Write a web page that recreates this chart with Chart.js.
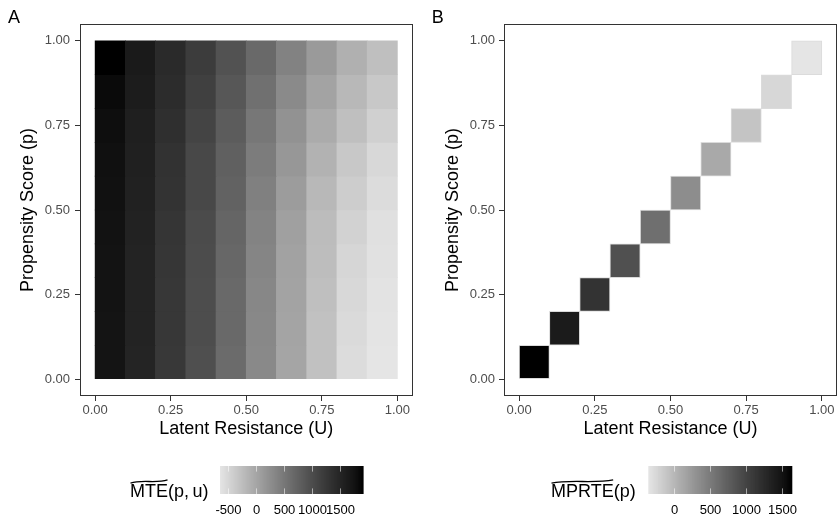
<!DOCTYPE html>
<html>
<head>
<meta charset="utf-8">
<script src="https://cdn.jsdelivr.net/npm/chart.js@4.4.1/dist/chart.umd.min.js"></script>
<style>
  html, body { margin: 0; padding: 0; background: #fff; overflow: hidden; }
  #wrap { position: relative; width: 838px; height: 519px; }
  .panel { position: absolute; top: 0; width: 419px; height: 519px; }
</style>
</head>
<body>
<div id="wrap">
  <div class="panel" style="left:0"><canvas id="chartA"></canvas></div>
  <div class="panel" style="left:419px"><canvas id="chartB"></canvas></div>
</div>
<script>
// bin edges shared by u (Latent Resistance) and p (Propensity Score)
const binEdges = [0, 0.1, 0.2, 0.3, 0.4, 0.5, 0.6, 0.7, 0.8, 0.9, 1.0];
const axisTicks = [0, 0.25, 0.5, 0.75, 1];

// MTE(p,u): one row per p bin (lowest p first), one value per u bin
const mteRows = [
  [1740, 1520, 1260,  970, 640, 310,  10, -290, -560, -650],
  [1740, 1530, 1270,  990, 660, 320,  20, -290, -540, -640],
  [1750, 1530, 1270, 1000, 670, 330,  30, -270, -520, -630],
  [1750, 1530, 1280, 1010, 690, 350,  40, -250, -500, -610],
  [1770, 1550, 1300, 1020, 710, 370,  60, -230, -460, -600],
  [1780, 1560, 1320, 1050, 750, 410, 100, -190, -410, -560],
  [1790, 1570, 1330, 1060, 770, 450, 150, -130, -360, -520],
  [1810, 1590, 1370, 1110, 820, 510, 210,  -60, -270, -440],
  [1840, 1630, 1410, 1160, 880, 580, 300,   30, -190, -360],
  [1920, 1660, 1440, 1210, 940, 670, 380,  120, -110, -270]
];

// MPRTE(p): one value per diagonal cell (u bin = p bin)
const mprte = [1640, 1430, 1170, 890, 610, 350, 120, -100, -250, -360];

const mteLegendTicks = [-500, 0, 500, 1000, 1500];
const mprteLegendTicks = [0, 500, 1000, 1500];

Chart.defaults.font.family = '"Liberation Sans", Arial, sans-serif';
Chart.defaults.color = '#4d4d4d';

// ggplot-like gradient from grey90 to black (linear in L*)
const LOW_L = 90.94;
function greyFor(v, lo, hi) {
  let t = (v - lo) / (hi - lo);
  t = Math.min(1, Math.max(0, t));
  const L = LOW_L * (1 - t);
  const Y = L > 8 ? Math.pow((L + 16) / 116, 3) : L / 903.3;
  const s = Y <= 0.0031308 ? 12.92 * Y : 1.055 * Math.pow(Y, 1 / 2.4) - 0.055;
  const g = Math.round(Math.max(0, Math.min(1, s)) * 255);
  return 'rgb(' + g + ',' + g + ',' + g + ')';
}

function drawTilde(ctx, x0, x1, y) {
  const w = x1 - x0;
  ctx.beginPath();
  ctx.moveTo(x0, y + 1.6);
  ctx.bezierCurveTo(x0 + w * 0.3, y - 2.2, x0 + w * 0.7, y + 2.2, x1, y - 1.6);
  ctx.lineWidth = 1.3;
  ctx.strokeStyle = '#000';
  ctx.stroke();
}

// panel box, panel letter and colour bar
function panelPlugin(cfg) {
  return {
    id: 'panelDecor',
    afterDraw(chart) {
      const ctx = chart.ctx;
      const a = chart.chartArea;
      ctx.save();
      ctx.strokeStyle = '#333';
      ctx.lineWidth = 1;
      ctx.strokeRect(Math.round(a.left) + 0.5, Math.round(a.top) + 0.5,
        Math.round(a.right - a.left) - 1, Math.round(a.bottom - a.top) - 1);

      ctx.fillStyle = '#000';
      ctx.font = '18px "Liberation Sans", Arial, sans-serif';
      ctx.textBaseline = 'alphabetic';
      ctx.textAlign = 'left';
      ctx.fillText(cfg.letter, cfg.letterX, 23);

      // colour bar
      const cb = cfg.bar;
      const n = Math.round(cb.w);
      for (let k = 0; k < n; k++) {
        const v = cb.lo + (cb.hi - cb.lo) * (k + 0.5) / n;
        ctx.fillStyle = greyFor(v, cb.lo, cb.hi);
        ctx.fillRect(cb.x + k * cb.w / n, cb.y, cb.w / n + 0.6, cb.h);
      }
      ctx.strokeStyle = 'rgba(255,255,255,0.55)';
      ctx.lineWidth = 1;
      ctx.fillStyle = '#000';
      ctx.font = '13px "Liberation Sans", Arial, sans-serif';
      ctx.textAlign = 'center';
      cb.ticks.forEach(t => {
        const px = Math.round(cb.x + (t - cb.lo) / (cb.hi - cb.lo) * cb.w) + 0.5;
        ctx.beginPath();
        ctx.moveTo(px, cb.y); ctx.lineTo(px, cb.y + cb.h / 5);
        ctx.moveTo(px, cb.y + cb.h - cb.h / 5); ctx.lineTo(px, cb.y + cb.h);
        ctx.stroke();
        ctx.fillText(String(t), px, 514);
      });

      // legend title with wide tilde
      ctx.font = '18px "Liberation Sans", Arial, sans-serif';
      ctx.textAlign = 'left';
      const wName = ctx.measureText(cb.name).width;
      ctx.fillText(cb.name, cb.titleX, 497);
      ctx.fillText(cb.args, cb.titleX + wName, 497);
      drawTilde(ctx, cb.titleX + 0.5, cb.titleX + wName - 0.5, 481.5);
      ctx.restore();
    }
  };
}

function makeChart(id, points, colors, opts) {
  return new Chart(document.getElementById(id), {
    type: 'bar',
    data: {
      datasets: [{
        data: points,
        backgroundColor: colors,
        borderColor: opts.cellBorder || 'rgba(0,0,0,0)',
        borderWidth: opts.cellBorder ? 1 : 0,
        borderSkipped: false,
        barPercentage: 1,
        categoryPercentage: 1
      }]
    },
    options: {
      responsive: true,
      maintainAspectRatio: false,
      animation: false,
      events: [],
      layout: { padding: opts.padding },
      plugins: { legend: { display: false }, tooltip: { enabled: false } },
      scales: {
        x: {
          type: 'linear',
          min: -0.05, max: 1.05,
          offset: false,
          grid: { offset: false, drawOnChartArea: false, drawTicks: true, tickLength: 5, tickColor: '#333' },
          border: { display: false },
          afterBuildTicks: s => { s.ticks = axisTicks.map(v => ({ value: v })); },
          afterFit: s => { s.height = 45; s.paddingLeft = 0; s.paddingRight = 0; },
          ticks: { padding: 2, color: '#4d4d4d', font: { size: 13 }, maxRotation: 0,
                   callback: v => Number(v).toFixed(2) },
          title: { display: true, text: 'Latent Resistance (U)', color: '#000',
                   font: { size: 18 }, padding: { top: 0, bottom: 1 } }
        },
        y: {
          type: 'linear',
          min: -0.05, max: 1.05,
          grid: { drawOnChartArea: false, drawTicks: true, tickLength: 5, tickColor: '#333' },
          border: { display: false },
          afterBuildTicks: s => { s.ticks = axisTicks.map(v => ({ value: v })); },
          afterFit: s => { s.width = opts.yWidth; s.paddingTop = 0; s.paddingBottom = 0; },
          ticks: { padding: opts.yPad, color: '#4d4d4d', font: { size: 13 },
                   callback: v => Number(v).toFixed(2) },
          title: { display: true, text: 'Propensity Score (p)', color: '#000',
                   font: { size: 18 }, padding: { top: opts.yTitlePad, bottom: 0 } }
        }
      }
    },
    plugins: [panelPlugin(opts.decor)]
  });
}

// ---- panel A: MTE heat map ----
const mteFlat = mteRows.flat();
const mteMin = Math.min(...mteFlat), mteMax = Math.max(...mteFlat);
const mtePoints = [], mteColors = [];
mteRows.forEach((row, i) => {
  row.forEach((v, j) => {
    mtePoints.push({ x: (binEdges[j] + binEdges[j + 1]) / 2, y: [binEdges[i], binEdges[i + 1]] });
    mteColors.push(greyFor(v, mteMin, mteMax));
  });
});

makeChart('chartA', mtePoints, mteColors, {
  padding: { left: 0, right: 6.5, top: 24, bottom: 78 },
  yWidth: 80, yPad: 5, yTitlePad: 17.5,
  decor: {
    letter: 'A', letterX: 8,
    bar: { x: 220, y: 466, w: 143, h: 28, lo: mteMin, hi: mteMax, ticks: mteLegendTicks,
           name: 'MTE', args: '(p,\u2009u)', titleX: 130 }
  }
});

// ---- panel B: MPRTE along the diagonal ----
const mprteMin = Math.min(...mprte), mprteMax = Math.max(...mprte);
const mprtePoints = mprte.map((v, i) => ({ x: (binEdges[i] + binEdges[i + 1]) / 2, y: [binEdges[i], binEdges[i + 1]] }));
const mprteColors = mprte.map(v => greyFor(v, mprteMin, mprteMax));

makeChart('chartB', mprtePoints, mprteColors, {
  padding: { left: 0, right: 1, top: 24, bottom: 78 },
  yWidth: 85, yPad: 4, yTitlePad: 23.5,
  cellBorder: 'rgba(215,215,215,0.9)',
  decor: {
    letter: 'B', letterX: 12.7,
    bar: { x: 229.3, y: 466, w: 143.4, h: 28, lo: mprteMin, hi: mprteMax, ticks: mprteLegendTicks,
           name: 'MPRTE', args: '(p)', titleX: 132 }
  }
});
</script>
</body>
</html>
